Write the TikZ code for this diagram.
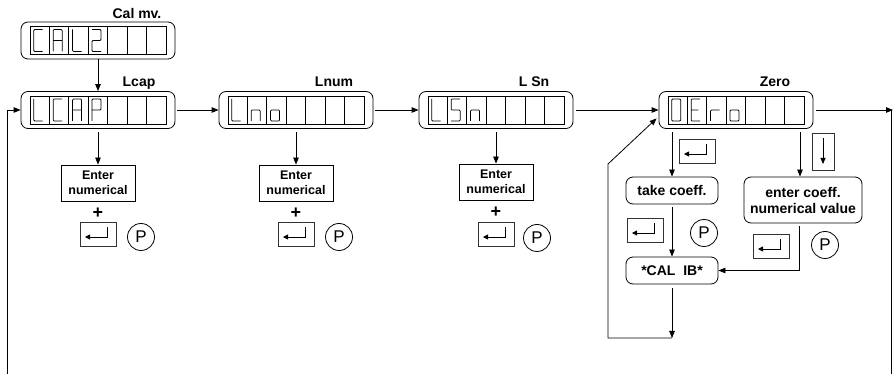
\documentclass[tikz,border=0pt]{standalone}
\usepackage{fontspec}
\setmainfont{Liberation Sans}
\usetikzlibrary{arrows.meta,calc}

\tikzset{
 ln/.style={line width=0.8pt},
 arr/.style={ln,-{Triangle[length=7pt,width=5.5pt]}},
 dispouter/.style={draw,ln,rounded corners=7pt,minimum width=154pt,minimum height=37pt,inner sep=0pt},
 seg/.style={line width=0.75pt,rounded corners=1pt},
 lbl/.style={font=\bfseries\fontsize{14}{16}\selectfont,inner sep=0pt},
 enterbox/.style={draw,ln,minimum width=74pt,minimum height=36pt,align=center,font=\bfseries\fontsize{12.5}{14.5}\selectfont,inner sep=0pt},
 rbox/.style={draw,ln,rounded corners=7pt,align=center,font=\bfseries\fontsize{14}{16}\selectfont,inner sep=0pt},
 keybox/.style={draw,line width=1pt,black!80,minimum width=36pt,minimum height=24pt,inner sep=0pt},
 pcirc/.style={draw,ln,circle,minimum size=27pt,inner sep=0pt,font=\fontsize{17}{17}\selectfont},
 plussign/.style={font=\bfseries\fontsize{18}{18}\selectfont,inner sep=0pt},
}

\newcommand\dispbox[2]{%
 \node[dispouter] (#1) at (#2) {};
 \draw[ln] ($(#1.center)+(-68,-14)$) rectangle ($(#1.center)+(68,14)$);
 \foreach \k in {1,...,6}{\draw[ln] ($(#1.center)+(-68+19.4286*\k,-14)$) -- ($(#1.center)+(-68+19.4286*\k,14)$);}
}
\newcommand\glyph[3]{\begin{scope}[shift={($(#1.center)+(-68+19.4286*#2-11.2,0)$)},x=0.9pt]\draw[seg] #3;\end{scope}}
\newcommand\enterkey[2]{%
 \node[keybox] (#1) at (#2) {};
 \draw[ln,arrows={Triangle[length=5pt,width=5pt]-}] ($(#1.center)+(-13,2)$) -| ($(#1.center)+(9.5,-8)$);
}

\begin{document}
\begin{tikzpicture}[x=1pt,y=-1pt]
\useasboundingbox (0,0) rectangle (895,379);

% displays
\dispbox{cal2}{98,40.5}
\dispbox{lcap}{98,110}
\dispbox{lno}{296,110}
\dispbox{lsn}{496,110}
\dispbox{zero}{736,110}

% glyphs
\glyph{cal2}{1}{(5,-11)--(-5,-11)--(-5,11)--(5,11)}
\glyph{cal2}{2}{(-5,11)--(-5,-11)--(5,-11)--(5,11) (-5,0)--(5,0)}
\glyph{cal2}{3}{(-5,-11)--(-5,11)--(5,11)}
\glyph{cal2}{4}{(-5,-11)--(5,-11)--(5,0)--(-5,0)--(-5,11)--(5,11)}

\glyph{lcap}{1}{(-5,-11)--(-5,11)--(5,11)}
\glyph{lcap}{2}{(5,-11)--(-5,-11)--(-5,11)--(5,11)}
\glyph{lcap}{3}{(-5,11)--(-5,-11)--(5,-11)--(5,11) (-5,0)--(5,0)}
\glyph{lcap}{4}{(-5,11)--(-5,-11)--(5,-11)--(5,0)--(-5,0)}

\glyph{lno}{1}{(-5,-11)--(-5,11)--(5,11)}
\glyph{lno}{2}{(-5,11)--(-5,0)--(5,0)--(5,11)}
\glyph{lno}{3}{(-5,0) rectangle (5,11)}

\glyph{lsn}{1}{(-5,-11)--(-5,11)--(5,11)}
\glyph{lsn}{2}{(5,-11)--(-5,-11)--(-5,0)--(5,0)--(5,11)--(-5,11)}
\glyph{lsn}{3}{(-5,11)--(-5,0)--(5,0)--(5,11)}

\glyph{zero}{1}{(-5,-11) rectangle (5,11)}
\glyph{zero}{2}{(5,-11)--(-5,-11)--(-5,11)--(5,11) (-5,0)--(3,0)}
\glyph{zero}{3}{(-5,11)--(-5,0)--(5,0)}
\glyph{zero}{4}{(-5,0) rectangle (5,11)}

% labels
\node[lbl] (tcal) at (137,13) {Cal mv.};
\node[lbl] (tlcap) at (139,83) {Lcap};
\node[lbl] (tlno) at (334,82) {Lnum};
\node[lbl] (tlsn) at (534,82) {L Sn};
\node[lbl] (tzero) at (775,82) {Zero};

% main chain
\draw[arr] (cal2) -- (lcap);
\draw[arr,shorten <=2pt] (lcap) -- (lno);
\draw[arr,shorten <=2pt] (lno) -- (lsn);
\draw[arr,shorten <=3pt] (lsn) -- (zero);

% enter numerical groups
\node[enterbox] (e1) at (98,183) {Enter\\numerical};
\node[enterbox] (e2) at (296,183) {Enter\\numerical};
\node[enterbox] (e3) at (496,182) {Enter\\numerical};
\draw[arr,shorten <=3pt] (lcap) -- (e1);
\draw[arr,shorten <=3pt] (lno) -- (e2);
\draw[arr,shorten <=3pt] (lsn) -- (e3);

\node[plussign] (pl1) at (98,213) {+};
\node[plussign] (pl2) at (296,213) {+};
\node[plussign] (pl3) at (496,212) {+};

\enterkey{k1}{98,235}
\enterkey{k2}{296,235}
\enterkey{k3}{496,235}
\node[pcirc] (p1) at (141,237) {P};
\node[pcirc] (p2) at (339,237) {P};
\node[pcirc] (p3) at (537,238) {P};

% zero section
\node[rbox,minimum width=92pt,minimum height=27pt] (tc) at (672,190.5) {take coeff.};
\node[rbox,minimum width=118pt,minimum height=46pt] (ec) at (803,200) {enter coeff.\\numerical value};
\node[rbox,minimum width=92pt,minimum height=27pt] (cb) at (672,270.5) {*CAL\ \ IB*};

\draw[arr,shorten <=3pt] (zero.south -| tc.north) -- (tc.north);
\draw[arr] ($(zero.south)+(64,3)$) -- ($(ec.north)+(-3,0)$);
\draw[arr] ($(ec.south)+(-4,3)$) |- (cb.east);
\draw[arr,shorten <=3pt] (tc) -- (cb);

\coordinate (lp) at (672,338);
\coordinate (lpa) at (608,338);
\coordinate (lpb) at (608,164);
\draw[arr,shorten <=4pt] (cb) -- (lp);
\draw[arr] (lp) -- (lpa) -- (lpb) -- ($(zero.south west)+(-2,-10.5)$);

\enterkey{kz1}{697,152}
\enterkey{kz2}{645,231}
\enterkey{kz3}{771,247}
\node[pcirc] (pz1) at (704,233) {P};
\node[pcirc] (pz2) at (825,245) {P};
\node[keybox,minimum width=22pt,minimum height=37pt] (dk) at (823,152) {};
\draw[ln,-{Triangle[length=6pt,width=5pt]}] ($(dk.center)+(0,-14)$) -- ($(dk.center)+(0,12)$);

% outer return lines
\coordinate (rend) at (893,110);
\coordinate (rtop) at (891.5,110);
\coordinate (rbot) at (891.5,374);
\draw[arr,shorten <=3pt] (zero) -- (rend);
\draw[ln] (rtop) -- (rbot);
\coordinate (lbot) at (7,374);
\draw[arr] (lbot) |- (lcap.west);
\end{tikzpicture}
\end{document}
